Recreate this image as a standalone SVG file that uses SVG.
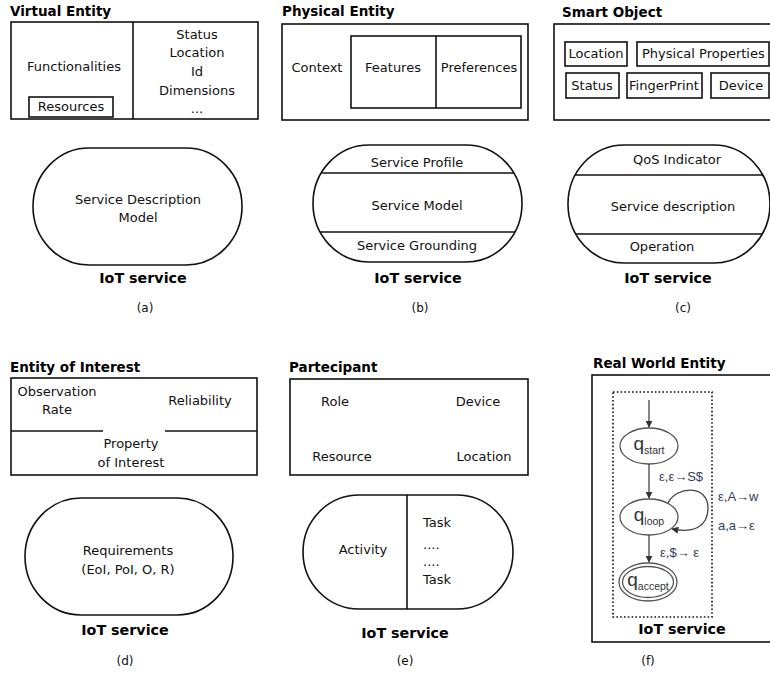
<svg xmlns="http://www.w3.org/2000/svg" width="770" height="675" viewBox="0 0 770 675">
<style>
  .t { font-family: "DejaVu Sans", "Noto Sans", sans-serif; font-size: 13px; fill: #111; }
  .c { text-anchor: middle; }
  .title { font-family: "DejaVu Sans", "Noto Sans", sans-serif; font-size: 13.5px; font-weight: bold; fill: #000; }
  .svc { font-family: "DejaVu Sans", "Noto Sans", sans-serif; font-size: 14.3px; font-weight: bold; fill: #000; text-anchor: middle; }
  .cap { font-family: "DejaVu Sans", "Noto Sans", sans-serif; font-size: 12px; fill: #111; text-anchor: middle; }
  .box { fill: none; stroke: #111; stroke-width: 1.6; }
  .ln { stroke: #111; stroke-width: 1.6; fill: none; }
  .fsm { fill: none; stroke: #555; stroke-width: 1.3; }
  .arr { stroke: #444; stroke-width: 1.3; fill: none; marker-end: url(#ah); }
  .q { font-family: "Liberation Sans", Arial, sans-serif; fill: #333; text-anchor: middle; }
  .lab { font-family: "Liberation Sans", Arial, sans-serif; font-size: 13px; fill: #34405a; }
  .dots { fill: none; stroke: #111; stroke-width: 1.6; stroke-dasharray: 1.6 2.2; }
</style>
<defs>
  <marker id="ah" viewBox="0 0 10 10" refX="9" refY="5" markerWidth="7" markerHeight="7" orient="auto" markerUnits="userSpaceOnUse">
    <path d="M0,0 L10,5 L0,10 z" fill="#333"/>
  </marker>
  <clipPath id="clipB"><rect x="313" y="145" width="209" height="117" rx="56" ry="58.5"/></clipPath>
  <clipPath id="clipC"><rect x="568" y="145" width="202" height="118" rx="56" ry="59"/></clipPath>
</defs>

<!-- (a) Virtual Entity -->
<g id="virtual-entity">
  <text class="title" x="10" y="16">Virtual Entity</text>
  <rect class="box" x="11" y="22" width="247" height="97"/>
  <line class="ln" x1="133" y1="22" x2="133" y2="119"/>
  <text class="t c" x="74" y="71">Functionalities</text>
  <rect class="box" x="29" y="97" width="84" height="20"/>
  <text class="t c" x="71" y="111">Resources</text>
  <text class="t c" x="197" y="39">Status</text>
  <text class="t c" x="197" y="57">Location</text>
  <text class="t c" x="197" y="76">Id</text>
  <text class="t c" x="197" y="95">Dimensions</text>
  <text class="t c" x="197" y="113">...</text>
</g>
<g id="service-a">
  <rect class="box" x="33" y="148" width="209" height="117" rx="56" ry="58.5"/>
  <text class="t c" x="138" y="204">Service Description</text>
  <text class="t c" x="138" y="222">Model</text>
  <text class="svc" x="143" y="283">IoT service</text>
  <text class="cap" x="145" y="312">(a)</text>
</g>

<!-- (b) Physical Entity -->
<g id="physical-entity">
  <text class="title" x="282" y="16">Physical Entity</text>
  <rect class="box" x="282" y="24" width="246" height="96"/>
  <rect class="box" x="351" y="36" width="170" height="72"/>
  <line class="ln" x1="436" y1="36" x2="436" y2="108"/>
  <text class="t c" x="317" y="72">Context</text>
  <text class="t c" x="393" y="72">Features</text>
  <text class="t c" x="479" y="72">Preferences</text>
</g>
<g id="service-b">
  <rect class="box" x="313" y="145" width="209" height="117" rx="56" ry="58.5"/>
  <g clip-path="url(#clipB)">
    <line class="ln" x1="300" y1="173" x2="540" y2="173"/>
    <line class="ln" x1="300" y1="232" x2="540" y2="232"/>
  </g>
  <text class="t c" x="417" y="167">Service Profile</text>
  <text class="t c" x="417" y="210">Service Model</text>
  <text class="t c" x="417" y="250">Service Grounding</text>
  <text class="svc" x="418" y="283">IoT service</text>
  <text class="cap" x="420" y="312">(b)</text>
</g>

<!-- (c) Smart Object -->
<g id="smart-object">
  <text class="title" x="562" y="17">Smart Object</text>
  <rect class="box" x="554" y="24" width="225" height="96"/>
  <rect class="box" x="565" y="42" width="62" height="24"/>
  <text class="t c" x="596" y="58">Location</text>
  <rect class="box" x="637" y="42" width="132" height="24"/>
  <text class="t" x="642" y="58">Physical Properties</text>
  <rect class="box" x="566" y="73" width="53" height="25"/>
  <text class="t c" x="592" y="90">Status</text>
  <rect class="box" x="627" y="73" width="75" height="25"/>
  <text class="t c" x="664" y="90">FingerPrint</text>
  <rect class="box" x="711" y="73" width="58" height="25"/>
  <text class="t c" x="741" y="90">Device</text>
</g>
<g id="service-c">
  <rect class="box" x="568" y="145" width="202" height="118" rx="56" ry="59"/>
  <g clip-path="url(#clipC)">
    <line class="ln" x1="555" y1="175" x2="780" y2="175"/>
    <line class="ln" x1="555" y1="234" x2="780" y2="234"/>
  </g>
  <text class="t c" x="677" y="164">QoS Indicator</text>
  <text class="t c" x="673" y="211">Service description</text>
  <text class="t c" x="662" y="251">Operation</text>
  <text class="svc" x="668" y="283">IoT service</text>
  <text class="cap" x="683" y="312">(c)</text>
</g>

<!-- (d) Entity of Interest -->
<g id="entity-of-interest">
  <text class="title" x="10" y="372">Entity of Interest</text>
  <rect class="box" x="11" y="378" width="246" height="97"/>
  <line class="ln" x1="11" y1="431" x2="103" y2="431"/>
  <line class="ln" x1="165" y1="431" x2="257" y2="431"/>
  <text class="t c" x="57" y="396">Observation</text>
  <text class="t c" x="57" y="414">Rate</text>
  <text class="t c" x="200" y="405">Reliability</text>
  <text class="t c" x="131" y="448">Property</text>
  <text class="t c" x="131" y="467">of Interest</text>
</g>
<g id="service-d">
  <rect class="box" x="25" y="498" width="208" height="117" rx="56" ry="58.5"/>
  <text class="t c" x="128" y="555">Requirements</text>
  <text class="t c" x="128" y="574">(EoI, PoI, O, R)</text>
  <text class="svc" x="125" y="635">IoT service</text>
  <text class="cap" x="125" y="665">(d)</text>
</g>

<!-- (e) Partecipant -->
<g id="partecipant">
  <text class="title" x="289" y="372">Partecipant</text>
  <rect class="box" x="290" y="379" width="238" height="96"/>
  <text class="t c" x="335" y="406">Role</text>
  <text class="t c" x="478" y="406">Device</text>
  <text class="t c" x="342" y="461">Resource</text>
  <text class="t c" x="484" y="461">Location</text>
</g>
<g id="service-e">
  <rect class="box" x="303" y="495" width="210" height="114" rx="56" ry="57"/>
  <line class="ln" x1="407" y1="495" x2="407" y2="609"/>
  <text class="t c" x="363" y="554">Activity</text>
  <text class="t" x="423" y="527">Task</text>
  <text class="t" x="423" y="549">....</text>
  <text class="t" x="423" y="566">....</text>
  <text class="t" x="423" y="584">Task</text>
  <text class="svc" x="405" y="638">IoT service</text>
  <text class="cap" x="405" y="665">(e)</text>
</g>

<!-- (f) Real World Entity -->
<g id="real-world-entity">
  <text class="title" x="593" y="368">Real World Entity</text>
  <rect class="box" x="592" y="375" width="190" height="267"/>
  <rect class="dots" x="613" y="392" width="99" height="225"/>
  <text class="svc" x="682" y="634">IoT service</text>
  <text class="cap" x="648" y="665">(f)</text>
</g>
<g id="q-start">
  <ellipse class="fsm" cx="649" cy="446" rx="29" ry="18"/>
  <text class="q" x="649" y="450"><tspan font-size="19">q</tspan><tspan font-size="10.5" dy="4">start</tspan></text>
</g>
<g id="q-loop">
  <ellipse class="fsm" cx="649" cy="517" rx="29" ry="18"/>
  <text class="q" x="649" y="521"><tspan font-size="19">q</tspan><tspan font-size="10.5" dy="4">loop</tspan></text>
</g>
<g id="q-accept">
  <ellipse class="fsm" cx="648" cy="582" rx="29" ry="19"/>
  <ellipse class="fsm" cx="648" cy="582" rx="25.5" ry="15.5"/>
  <text class="q" x="648" y="586"><tspan font-size="19">q</tspan><tspan font-size="10.5" dy="4">accept</tspan></text>
</g>
<g id="connectors">
  <line class="arr" x1="649" y1="400" x2="649" y2="427"/>
  <line class="arr" x1="649" y1="464" x2="649" y2="498"/>
  <path class="arr" d="M668,503 C676,486 708,484 708,508 C708,528 692,533 672,529"/>
  <line class="arr" x1="649" y1="535" x2="649" y2="562"/>
  <text class="lab" x="659" y="481">ε,ε→S$</text>
  <text class="lab" x="718" y="501">ε,A→w</text>
  <text class="lab" x="718" y="530">a,a→ε</text>
  <text class="lab" x="660" y="557">ε,$→ ε</text>
</g>
</svg>
